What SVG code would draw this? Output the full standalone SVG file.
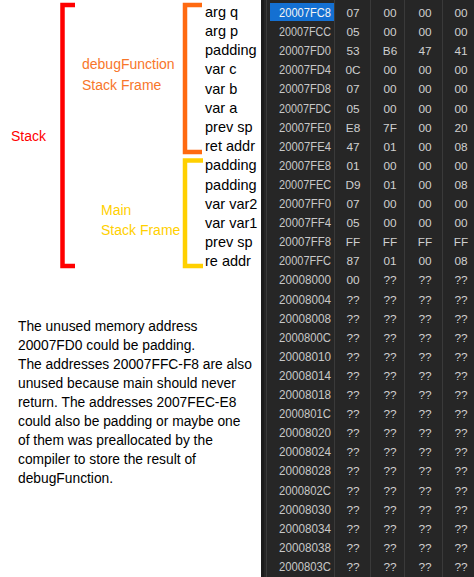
<svg xmlns="http://www.w3.org/2000/svg" width="474" height="577" viewBox="0 0 474 577">
<style>
.lbl{font-family:"Liberation Sans",Arial,sans-serif;font-size:14px}
.item{font-family:"Liberation Sans",Arial,sans-serif;font-size:14.5px;fill:#000}
.para{font-family:"Liberation Sans",Arial,sans-serif;font-size:13.8px;fill:#000}
.addr{font-family:"Liberation Sans",Arial,sans-serif;font-size:12px;fill:#c8c8c8}
.val{font-family:"Liberation Sans",Arial,sans-serif;font-size:11.8px;fill:#d0d0d0;text-anchor:middle}
.br{fill:none;stroke-width:4.5}
.sep{stroke:#3a3a3a;stroke-width:1}
</style>
<rect width="474" height="577" fill="#fff"/>
<g id="connectors">
<path class="br" d="M75,5 H62.5 V266 H75" stroke="#ff0000" stroke-width="5"/>
<path class="br" d="M202,5 H185 V152 H202" stroke="#ff6a10"/>
<path class="br" d="M203,160.5 H185 V266 H203" stroke="#ffd000"/>
</g>
<g id="stack-label"><text class="lbl" x="11" y="141" fill="#ff0000">Stack</text></g>
<g id="debug-frame-label">
<text class="lbl" x="82" y="69" fill="#f8762a">debugFunction</text>
<text class="lbl" x="82" y="90" fill="#f8762a">Stack Frame</text>
</g>
<g id="main-frame-label">
<text class="lbl" x="101" y="215" fill="#ffd000">Main</text>
<text class="lbl" x="101" y="235" fill="#ffd000">Stack Frame</text>
</g>
<g id="frame-items">
<text class="item" x="205" y="16.8">arg q</text>
<text class="item" x="205" y="36.0">arg p</text>
<text class="item" x="205" y="55.2">padding</text>
<text class="item" x="205" y="74.4">var c</text>
<text class="item" x="205" y="93.6">var b</text>
<text class="item" x="205" y="112.8">var a</text>
<text class="item" x="205" y="132.0">prev sp</text>
<text class="item" x="205" y="151.2">ret addr</text>
<text class="item" x="205" y="170.4">padding</text>
<text class="item" x="205" y="189.6">padding</text>
<text class="item" x="205" y="208.8">var var2</text>
<text class="item" x="205" y="228.0">var var1</text>
<text class="item" x="205" y="247.2">prev sp</text>
<text class="item" x="205" y="266.4">re addr</text>
</g>
<g id="note">
<text class="para" x="18" y="331">The unused memory address</text>
<text class="para" x="18" y="350">20007FD0 could be padding.</text>
<text class="para" x="18" y="369">The addresses 20007FFC-F8 are also</text>
<text class="para" x="18" y="388">unused because main should never</text>
<text class="para" x="18" y="407">return. The addresses 2007FEC-E8</text>
<text class="para" x="18" y="426">could also be padding or maybe one</text>
<text class="para" x="18" y="445">of them was preallocated by the</text>
<text class="para" x="18" y="464">compiler to store the result of</text>
<text class="para" x="18" y="483">debugFunction.</text>
</g>
<g id="memory-view">
<rect x="261" y="0" width="213" height="577" fill="#262626"/>
<rect x="261" y="0" width="3" height="577" fill="#1c1c1c"/>
<line class="sep" x1="266.5" y1="0" x2="266.5" y2="577" stroke="#404040"/>
<line class="sep" x1="334.5" y1="0" x2="334.5" y2="577"/>
<line class="sep" x1="370.5" y1="0" x2="370.5" y2="577"/>
<line class="sep" x1="404.5" y1="0" x2="404.5" y2="577"/>
<line class="sep" x1="442.5" y1="0" x2="442.5" y2="577"/>
<rect x="270" y="3" width="64" height="18" fill="#1470d2"/>
<g>
<text class="addr" x="279" y="17" textLength="52" lengthAdjust="spacingAndGlyphs" style="fill:#f4f4f4">20007FC8</text>
<text class="addr" x="279" y="36.1" textLength="52" lengthAdjust="spacingAndGlyphs">20007FCC</text>
<text class="addr" x="279" y="55.2" textLength="52" lengthAdjust="spacingAndGlyphs">20007FD0</text>
<text class="addr" x="279" y="74.3" textLength="52" lengthAdjust="spacingAndGlyphs">20007FD4</text>
<text class="addr" x="279" y="93.4" textLength="52" lengthAdjust="spacingAndGlyphs">20007FD8</text>
<text class="addr" x="279" y="112.5" textLength="52" lengthAdjust="spacingAndGlyphs">20007FDC</text>
<text class="addr" x="279" y="131.6" textLength="52" lengthAdjust="spacingAndGlyphs">20007FE0</text>
<text class="addr" x="279" y="150.7" textLength="52" lengthAdjust="spacingAndGlyphs">20007FE4</text>
<text class="addr" x="279" y="169.8" textLength="52" lengthAdjust="spacingAndGlyphs">20007FE8</text>
<text class="addr" x="279" y="188.9" textLength="52" lengthAdjust="spacingAndGlyphs">20007FEC</text>
<text class="addr" x="279" y="208" textLength="52" lengthAdjust="spacingAndGlyphs">20007FF0</text>
<text class="addr" x="279" y="227.1" textLength="52" lengthAdjust="spacingAndGlyphs">20007FF4</text>
<text class="addr" x="279" y="246.2" textLength="52" lengthAdjust="spacingAndGlyphs">20007FF8</text>
<text class="addr" x="279" y="265.3" textLength="52" lengthAdjust="spacingAndGlyphs">20007FFC</text>
<text class="addr" x="279" y="284.4" textLength="52" lengthAdjust="spacingAndGlyphs">20008000</text>
<text class="addr" x="279" y="303.5" textLength="52" lengthAdjust="spacingAndGlyphs">20008004</text>
<text class="addr" x="279" y="322.6" textLength="52" lengthAdjust="spacingAndGlyphs">20008008</text>
<text class="addr" x="279" y="341.7" textLength="52" lengthAdjust="spacingAndGlyphs">2000800C</text>
<text class="addr" x="279" y="360.8" textLength="52" lengthAdjust="spacingAndGlyphs">20008010</text>
<text class="addr" x="279" y="379.9" textLength="52" lengthAdjust="spacingAndGlyphs">20008014</text>
<text class="addr" x="279" y="399" textLength="52" lengthAdjust="spacingAndGlyphs">20008018</text>
<text class="addr" x="279" y="418.1" textLength="52" lengthAdjust="spacingAndGlyphs">2000801C</text>
<text class="addr" x="279" y="437.2" textLength="52" lengthAdjust="spacingAndGlyphs">20008020</text>
<text class="addr" x="279" y="456.3" textLength="52" lengthAdjust="spacingAndGlyphs">20008024</text>
<text class="addr" x="279" y="475.4" textLength="52" lengthAdjust="spacingAndGlyphs">20008028</text>
<text class="addr" x="279" y="494.5" textLength="52" lengthAdjust="spacingAndGlyphs">2000802C</text>
<text class="addr" x="279" y="513.6" textLength="52" lengthAdjust="spacingAndGlyphs">20008030</text>
<text class="addr" x="279" y="532.7" textLength="52" lengthAdjust="spacingAndGlyphs">20008034</text>
<text class="addr" x="279" y="551.8" textLength="52" lengthAdjust="spacingAndGlyphs">20008038</text>
<text class="addr" x="279" y="570.9" textLength="52" lengthAdjust="spacingAndGlyphs">2000803C</text>
</g>
<g>
<text class="val" x="353" y="17">07</text><text class="val" x="390" y="17">00</text><text class="val" x="425" y="17">00</text><text class="val" x="461" y="17">00</text>
<text class="val" x="353" y="36.1">05</text><text class="val" x="390" y="36.1">00</text><text class="val" x="425" y="36.1">00</text><text class="val" x="461" y="36.1">00</text>
<text class="val" x="353" y="55.2">53</text><text class="val" x="390" y="55.2">B6</text><text class="val" x="425" y="55.2">47</text><text class="val" x="461" y="55.2">41</text>
<text class="val" x="353" y="74.3">0C</text><text class="val" x="390" y="74.3">00</text><text class="val" x="425" y="74.3">00</text><text class="val" x="461" y="74.3">00</text>
<text class="val" x="353" y="93.4">07</text><text class="val" x="390" y="93.4">00</text><text class="val" x="425" y="93.4">00</text><text class="val" x="461" y="93.4">00</text>
<text class="val" x="353" y="112.5">05</text><text class="val" x="390" y="112.5">00</text><text class="val" x="425" y="112.5">00</text><text class="val" x="461" y="112.5">00</text>
<text class="val" x="353" y="131.6">E8</text><text class="val" x="390" y="131.6">7F</text><text class="val" x="425" y="131.6">00</text><text class="val" x="461" y="131.6">20</text>
<text class="val" x="353" y="150.7">47</text><text class="val" x="390" y="150.7">01</text><text class="val" x="425" y="150.7">00</text><text class="val" x="461" y="150.7">08</text>
<text class="val" x="353" y="169.8">01</text><text class="val" x="390" y="169.8">00</text><text class="val" x="425" y="169.8">00</text><text class="val" x="461" y="169.8">00</text>
<text class="val" x="353" y="188.9">D9</text><text class="val" x="390" y="188.9">01</text><text class="val" x="425" y="188.9">00</text><text class="val" x="461" y="188.9">08</text>
<text class="val" x="353" y="208">07</text><text class="val" x="390" y="208">00</text><text class="val" x="425" y="208">00</text><text class="val" x="461" y="208">00</text>
<text class="val" x="353" y="227.1">05</text><text class="val" x="390" y="227.1">00</text><text class="val" x="425" y="227.1">00</text><text class="val" x="461" y="227.1">00</text>
<text class="val" x="353" y="246.2">FF</text><text class="val" x="390" y="246.2">FF</text><text class="val" x="425" y="246.2">FF</text><text class="val" x="461" y="246.2">FF</text>
<text class="val" x="353" y="265.3">87</text><text class="val" x="390" y="265.3">01</text><text class="val" x="425" y="265.3">00</text><text class="val" x="461" y="265.3">08</text>
<text class="val" x="353" y="284.4">00</text><text class="val" x="390" y="284.4">??</text><text class="val" x="425" y="284.4">??</text><text class="val" x="461" y="284.4">??</text>
<text class="val" x="353" y="303.5">??</text><text class="val" x="390" y="303.5">??</text><text class="val" x="425" y="303.5">??</text><text class="val" x="461" y="303.5">??</text>
<text class="val" x="353" y="322.6">??</text><text class="val" x="390" y="322.6">??</text><text class="val" x="425" y="322.6">??</text><text class="val" x="461" y="322.6">??</text>
<text class="val" x="353" y="341.7">??</text><text class="val" x="390" y="341.7">??</text><text class="val" x="425" y="341.7">??</text><text class="val" x="461" y="341.7">??</text>
<text class="val" x="353" y="360.8">??</text><text class="val" x="390" y="360.8">??</text><text class="val" x="425" y="360.8">??</text><text class="val" x="461" y="360.8">??</text>
<text class="val" x="353" y="379.9">??</text><text class="val" x="390" y="379.9">??</text><text class="val" x="425" y="379.9">??</text><text class="val" x="461" y="379.9">??</text>
<text class="val" x="353" y="399">??</text><text class="val" x="390" y="399">??</text><text class="val" x="425" y="399">??</text><text class="val" x="461" y="399">??</text>
<text class="val" x="353" y="418.1">??</text><text class="val" x="390" y="418.1">??</text><text class="val" x="425" y="418.1">??</text><text class="val" x="461" y="418.1">??</text>
<text class="val" x="353" y="437.2">??</text><text class="val" x="390" y="437.2">??</text><text class="val" x="425" y="437.2">??</text><text class="val" x="461" y="437.2">??</text>
<text class="val" x="353" y="456.3">??</text><text class="val" x="390" y="456.3">??</text><text class="val" x="425" y="456.3">??</text><text class="val" x="461" y="456.3">??</text>
<text class="val" x="353" y="475.4">??</text><text class="val" x="390" y="475.4">??</text><text class="val" x="425" y="475.4">??</text><text class="val" x="461" y="475.4">??</text>
<text class="val" x="353" y="494.5">??</text><text class="val" x="390" y="494.5">??</text><text class="val" x="425" y="494.5">??</text><text class="val" x="461" y="494.5">??</text>
<text class="val" x="353" y="513.6">??</text><text class="val" x="390" y="513.6">??</text><text class="val" x="425" y="513.6">??</text><text class="val" x="461" y="513.6">??</text>
<text class="val" x="353" y="532.7">??</text><text class="val" x="390" y="532.7">??</text><text class="val" x="425" y="532.7">??</text><text class="val" x="461" y="532.7">??</text>
<text class="val" x="353" y="551.8">??</text><text class="val" x="390" y="551.8">??</text><text class="val" x="425" y="551.8">??</text><text class="val" x="461" y="551.8">??</text>
<text class="val" x="353" y="570.9">??</text><text class="val" x="390" y="570.9">??</text><text class="val" x="425" y="570.9">??</text><text class="val" x="461" y="570.9">??</text>
</g>
</g>
</svg>
